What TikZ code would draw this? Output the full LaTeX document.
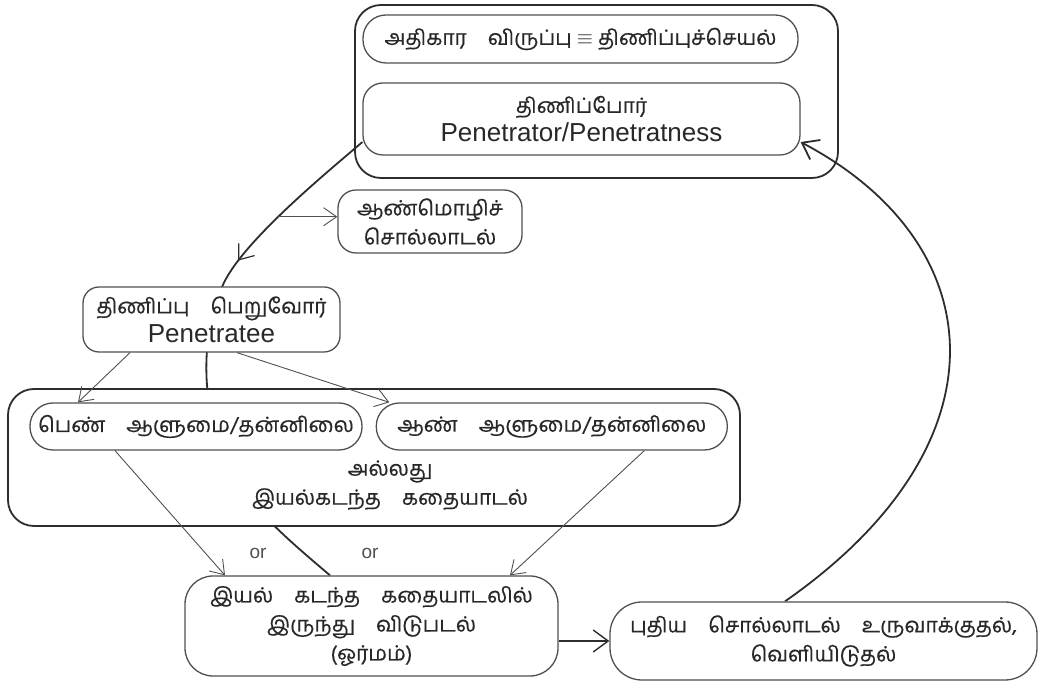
\documentclass[tikz,border=0pt]{standalone}
\usepackage{fontspec}
\setmainfont{Liberation Sans}
\newfontfamily\tamilfont[Script=Tamil, FakeBold=0.4]{Hind Madurai}
\newfontfamily\latinfont{Liberation Sans}
\usepackage{xcolor}
\definecolor{cycdark}{RGB}{45, 45, 45}
\definecolor{boxgray}{RGB}{80, 80, 80}
\definecolor{textgray}{RGB}{40, 40, 40}
\usepackage{tikz}
\usetikzlibrary{arrows.meta, positioning, backgrounds, decorations.markings}

\begin{document}
\begin{tikzpicture}[
        x=1pt, y=1pt,
        font=\tamilfont\fontsize{21}{29}\selectfont,
        text=textgray,
        pill/.style={
            rectangle,
            draw=boxgray,
            line width=1.3pt,
            fill=white,
            align=center,
            inner sep=0pt,
            rounded corners=20pt
        },
        frame/.style={
            rectangle,
            draw=cycdark,
            line width=1.8pt,
            inner sep=0pt,
            rounded corners=26pt
        },
        arrow/.style={
            -{Straight Barb[length=13pt, width=18pt]},
            line width=0.9pt,
            draw=boxgray
        },
        bigarrow/.style={
            -{Straight Barb[length=15pt, width=22pt]},
            line width=1.4pt,
            draw=cycdark
        },
        cycleline/.style={
            line width=1.8pt,
            draw=cycdark
        },
        latin/.style={font=\latinfont\fontsize{26}{29}\selectfont},
        ortext/.style={font=\latinfont\fontsize{19}{22}\selectfont, text=boxgray}
    ]
        \useasboundingbox (0,0) rectangle (1050,683);

        % Nodes
        \node[frame, minimum width=483, minimum height=173] (powerbox) at (596.5,591.5) {};
        \node[pill, minimum width=435, minimum height=48, rounded corners=23pt] (desire) at (580.5,644) {அதிகார\quad விருப்பு $\equiv$ திணிப்புச்செயல்};
        \node[pill, minimum width=437, minimum height=72] (penetrator) at (581.5,564) {திணிப்போர்\\{\latinfont\fontsize{26}{29}\selectfont Penetrator/Penetratness}};
        \node[pill, minimum width=184, minimum height=63, rounded corners=18pt] (maletalk) at (430,461.5) {ஆண்மொழிச்\\சொல்லாடல்};
        \node[pill, minimum width=257, minimum height=65, rounded corners=16pt] (penetratee) at (211.5,363.5) {திணிப்பு\quad பெறுவோர்\\{\latinfont\fontsize{26}{29}\selectfont Penetratee}};
        \node[frame, fill=white, minimum width=732, minimum height=137] (selfbox) at (374,225.5) {};
        \node[pill, minimum width=332, minimum height=47, rounded corners=23pt] (femself) at (196,256.5) {பெண்\quad ஆளுமை/தன்னிலை};
        \node[pill, minimum width=351, minimum height=47, rounded corners=23pt, right=13pt of femself] (maleself) {ஆண்\quad ஆளுமை/தன்னிலை};
        \node[align=center] (beyond) at (390,198) {அல்லது\\இயல்கடந்த\quad கதையாடல்};
        \node[pill, minimum width=373, minimum height=100, rounded corners=28pt] (release) at (371.5,57) {இயல்\quad கடந்த\quad கதையாடலில்\\இருந்து\quad விடுபடல்\\(ஓர்மம்)};
        \node[pill, minimum width=427, minimum height=78, rounded corners=32pt] (newtalk) at (823.5,42) {புதிய\quad சொல்லாடல்\quad உருவாக்குதல்,\\வெளியிடுதல்};
        \node[ortext] (orleft) at (258,130) {or};
        \node[ortext] (orright) at (370,130) {or};

        % Arrows
        \draw[arrow] ([xshift=-81.5pt]penetratee.south) -- ([xshift=-118pt]femself.north);
        \draw[arrow] ([xshift=25.5pt]penetratee.south) -- ([xshift=-162.5pt]maleself.north);
        \draw[arrow] ([xshift=-81pt]femself.south) -- ([xshift=-146.5pt]release.north);
        \draw[arrow] ([xshift=92.5pt]maleself.south) -- ([xshift=138.5pt]release.north);
        \draw[bigarrow] (release.east |- newtalk.west) -- (newtalk.west);

        % Cycle
        \begin{scope}[on background layer]
            \draw[cycleline, postaction={decorate}, decoration={markings,
                    mark=at position 172pt with {\arrow{Straight Barb[length=13pt, width=20pt, line width=1.2pt]}}}]
                (penetrator.186) .. controls (330,513) and (240,440) .. (222,396) coordinate[pos=0.55] (branch)
                .. controls (204,352) and (200,300) .. (218,240)
                .. controls (233,190) and (280,150) .. ([xshift=-41.5pt]release.north);
            \draw[cycleline, -{Straight Barb[length=15pt, width=22pt]}]
                ([xshift=-38.5pt]newtalk.north) .. controls (1012,240) and (992,440) .. (penetrator.-6);
        \end{scope}
        \draw[arrow] (branch) -- (branch -| maletalk.west);
    \end{tikzpicture}
\end{document}
